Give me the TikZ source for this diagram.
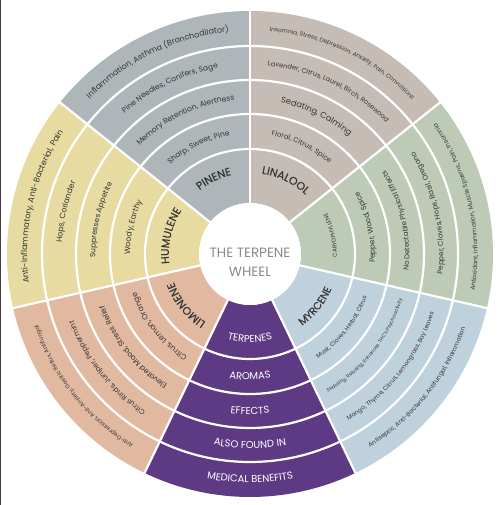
\documentclass[tikz,border=0pt]{standalone}
\usepackage{fontspec}
\setmainfont{Poppins}
\newfontfamily\namefont{Poppins}[FakeBold=0.3]
\usetikzlibrary{decorations.text}
\definecolor{pinec}{HTML}{AEB6B9}
\definecolor{linac}{HTML}{C5BCB5}
\definecolor{caryc}{HTML}{BDCAB6}
\definecolor{myrc}{HTML}{BFD1DC}
\definecolor{purpc}{HTML}{5E3A84}
\definecolor{limc}{HTML}{E1B9A0}
\definecolor{humc}{HTML}{E7DBA1}
\definecolor{txt}{HTML}{363636}
\definecolor{titlec}{HTML}{8A8A8A}
\newcommand\wedgefill[3]{%
  \fill[#1] (#2:51pt) arc[start angle=#2, end angle=#3, radius=51pt]
    -- (#3:243pt) arc[start angle=#3, end angle=#2, radius=243pt] -- cycle;}
% clockwise text: tops outward
\newcommand\cwtext[5]{%
  \pgfmathsetmacro\Rb{#2-0.33*#3}%
  \pgfmathsetmacro\As{#1+45}%
  \pgfmathsetmacro\Ae{#1-45}%
  \path[decorate, decoration={text along path, text align=center,
      text={|\fontsize{#3}{#3}\selectfont\color{#4}|#5}}]
    (\As:\Rb pt) arc[start angle=\As, end angle=\Ae, radius=\Rb pt];}
% counter-clockwise text: tops inward
\newcommand\ccwtext[5]{%
  \pgfmathsetmacro\Rb{#2+0.33*#3}%
  \pgfmathsetmacro\As{#1-45}%
  \pgfmathsetmacro\Ae{#1+45}%
  \path[decorate, decoration={text along path, text align=center,
      text={|\fontsize{#3}{#3}\selectfont\color{#4}|#5}}]
    (\As:\Rb pt) arc[start angle=\As, end angle=\Ae, radius=\Rb pt];}
% names (slightly heavier)
\newcommand\cwname[2]{%
  \pgfmathsetmacro\Rb{85-0.35*11}%
  \pgfmathsetmacro\As{#1+45}%
  \pgfmathsetmacro\Ae{#1-45}%
  \path[decorate, decoration={text along path, text align=center,
      text={|\namefont\fontsize{11}{11}\selectfont\color{txt}|#2}}]
    (\As:\Rb pt) arc[start angle=\As, end angle=\Ae, radius=\Rb pt];}
\newcommand\ccwname[3]{%
  \pgfmathsetmacro\Rb{85+0.35*#2}%
  \pgfmathsetmacro\As{#1-45}%
  \pgfmathsetmacro\Ae{#1+45}%
  \path[decorate, decoration={text along path, text align=center,
      text={|\namefont\fontsize{#2}{#2}\selectfont\color{txt}|#3}}]
    (\As:\Rb pt) arc[start angle=\As, end angle=\Ae, radius=\Rb pt];}
\tikzset{sepline/.style={draw=white, line width=2.2pt}}
\begin{document}
\begin{tikzpicture}[x=1pt,y=1pt]
\useasboundingbox[fill=white] (-250,-251) rectangle (250,254);
% sectors
\wedgefill{pinec}{90}{141.43}
\wedgefill{linac}{38.57}{90}
\wedgefill{caryc}{-12.86}{38.57}
\wedgefill{myrc}{-64.29}{-12.86}
\wedgefill{purpc}{-115.71}{-64.29}
\wedgefill{limc}{-167.14}{-115.71}
\wedgefill{humc}{141.43}{192.86}
% ring separators
\foreach \r in {105,140,174,208}
  \draw[sepline] (0,0) circle[radius=\r pt];
\foreach \a in {90,38.57,-12.86,-64.29,-115.71,-167.14,141.43}
  \draw[sepline] (\a:50pt) -- (\a:244pt);
% centre
\fill[white] (0,0) circle[radius=51pt];
\node[align=center, text=titlec, font=\fontsize{13.5}{19}\selectfont] (title) at (0,-8.5) {THE TERPENE\\WHEEL};
% left frame edge
\draw[line width=1.2pt, black!75] (-249.4,-251) -- (-249.4,254);
% PINENE
\cwname{115.71}{PINENE}
\cwtext{115.71}{122.5}{7.5}{txt}{Sharp, Sweet, Pine}
\cwtext{115.71}{157}{7.6}{txt}{Memory Retention, Alertness}
\cwtext{115.71}{191}{7.5}{txt}{Pine Needles, Conifers, Sage}
\cwtext{115.71}{225.5}{8}{txt}{Inflammation, Asthma (Bronchodilator)}
% LINALOOL
\cwname{64.29}{LINALOOL}
\cwtext{64.29}{122.5}{7}{txt}{Floral, Citrus, Spice}
\cwtext{64.29}{157}{8.3}{txt}{Sedating, Calming}
\cwtext{64.29}{191}{6.7}{txt}{Lavender, Citrus, Laurel, Birch, Rosewood}
\cwtext{64.29}{225.5}{5.9}{txt}{Insomnia, Stress, Depression, Anxiety, Pain, Convulsions}
% CARYOPHYLLENE
\ccwtext{12.86}{85}{5.8}{txt}{CARYOPHYLLENE}
\ccwtext{12.86}{122.5}{7.3}{txt}{Pepper, Wood, Spice}
\ccwtext{12.86}{157}{7}{txt}{No Detectable Physical Effects}
\ccwtext{12.86}{191}{7.1}{txt}{Pepper, Cloves, Hops, Basil, Oregano}
\ccwtext{12.86}{225.5}{6.1}{txt}{Antioxidant, Inflammation, Muscle Spasms, Pain, Insomnia}
% MYRCENE
\ccwname{-38.57}{10.5}{MYRCENE}
\ccwtext{-38.57}{122.5}{5.9}{txt}{Musk, Cloves, Herbal, Citrus}
\ccwtext{-38.57}{157}{4.9}{txt}{Sedating, Relaxing, Enhances THC's Psychoactivity}
\ccwtext{-38.57}{191}{6}{txt}{Mango, Thyme, Citrus, Lemongrass, Bay Leaves}
\ccwtext{-38.57}{225.5}{6.2}{txt}{Antiseptic, Anti-Bacterial, Antifungal, Inflammation}
% LEGEND
\ccwtext{-90}{85}{10}{white}{TERPENES}
\ccwtext{-90}{122.5}{10}{white}{AROMAS}
\ccwtext{-90}{157}{10}{white}{EFFECTS}
\ccwtext{-90}{191}{10}{white}{ALSO FOUND IN}
\ccwtext{-90}{225.5}{10}{white}{MEDICAL BENEFITS}
% LIMONENE
\cwname{-141.43}{LIMONENE}
\cwtext{-141.43}{122.5}{7.6}{txt}{Citrus, Lemon, Orange}
\cwtext{-141.43}{157}{7.5}{txt}{Elevated Mood, Stress Relief}
\cwtext{-141.43}{191}{7.2}{txt}{Citrus Rinds, Juniper, Peppermint}
\cwtext{-141.43}{225.5}{5.7}{txt}{Anti-Depression, Anti-Anxiety, Gastric Reflux, Antifungal}
% HUMULENE
\cwname{167.14}{HUMULENE}
\cwtext{167.14}{122.5}{7.8}{txt}{Woody, Earthy}
\cwtext{167.14}{157}{7.5}{txt}{Suppresses Appetite}
\cwtext{167.14}{191}{7.8}{txt}{Hops, Coriander}
\cwtext{167.14}{225.5}{8.2}{txt}{Anti-Inflammatory, Anti-Bacterial, Pain}
\end{tikzpicture}
\end{document}
